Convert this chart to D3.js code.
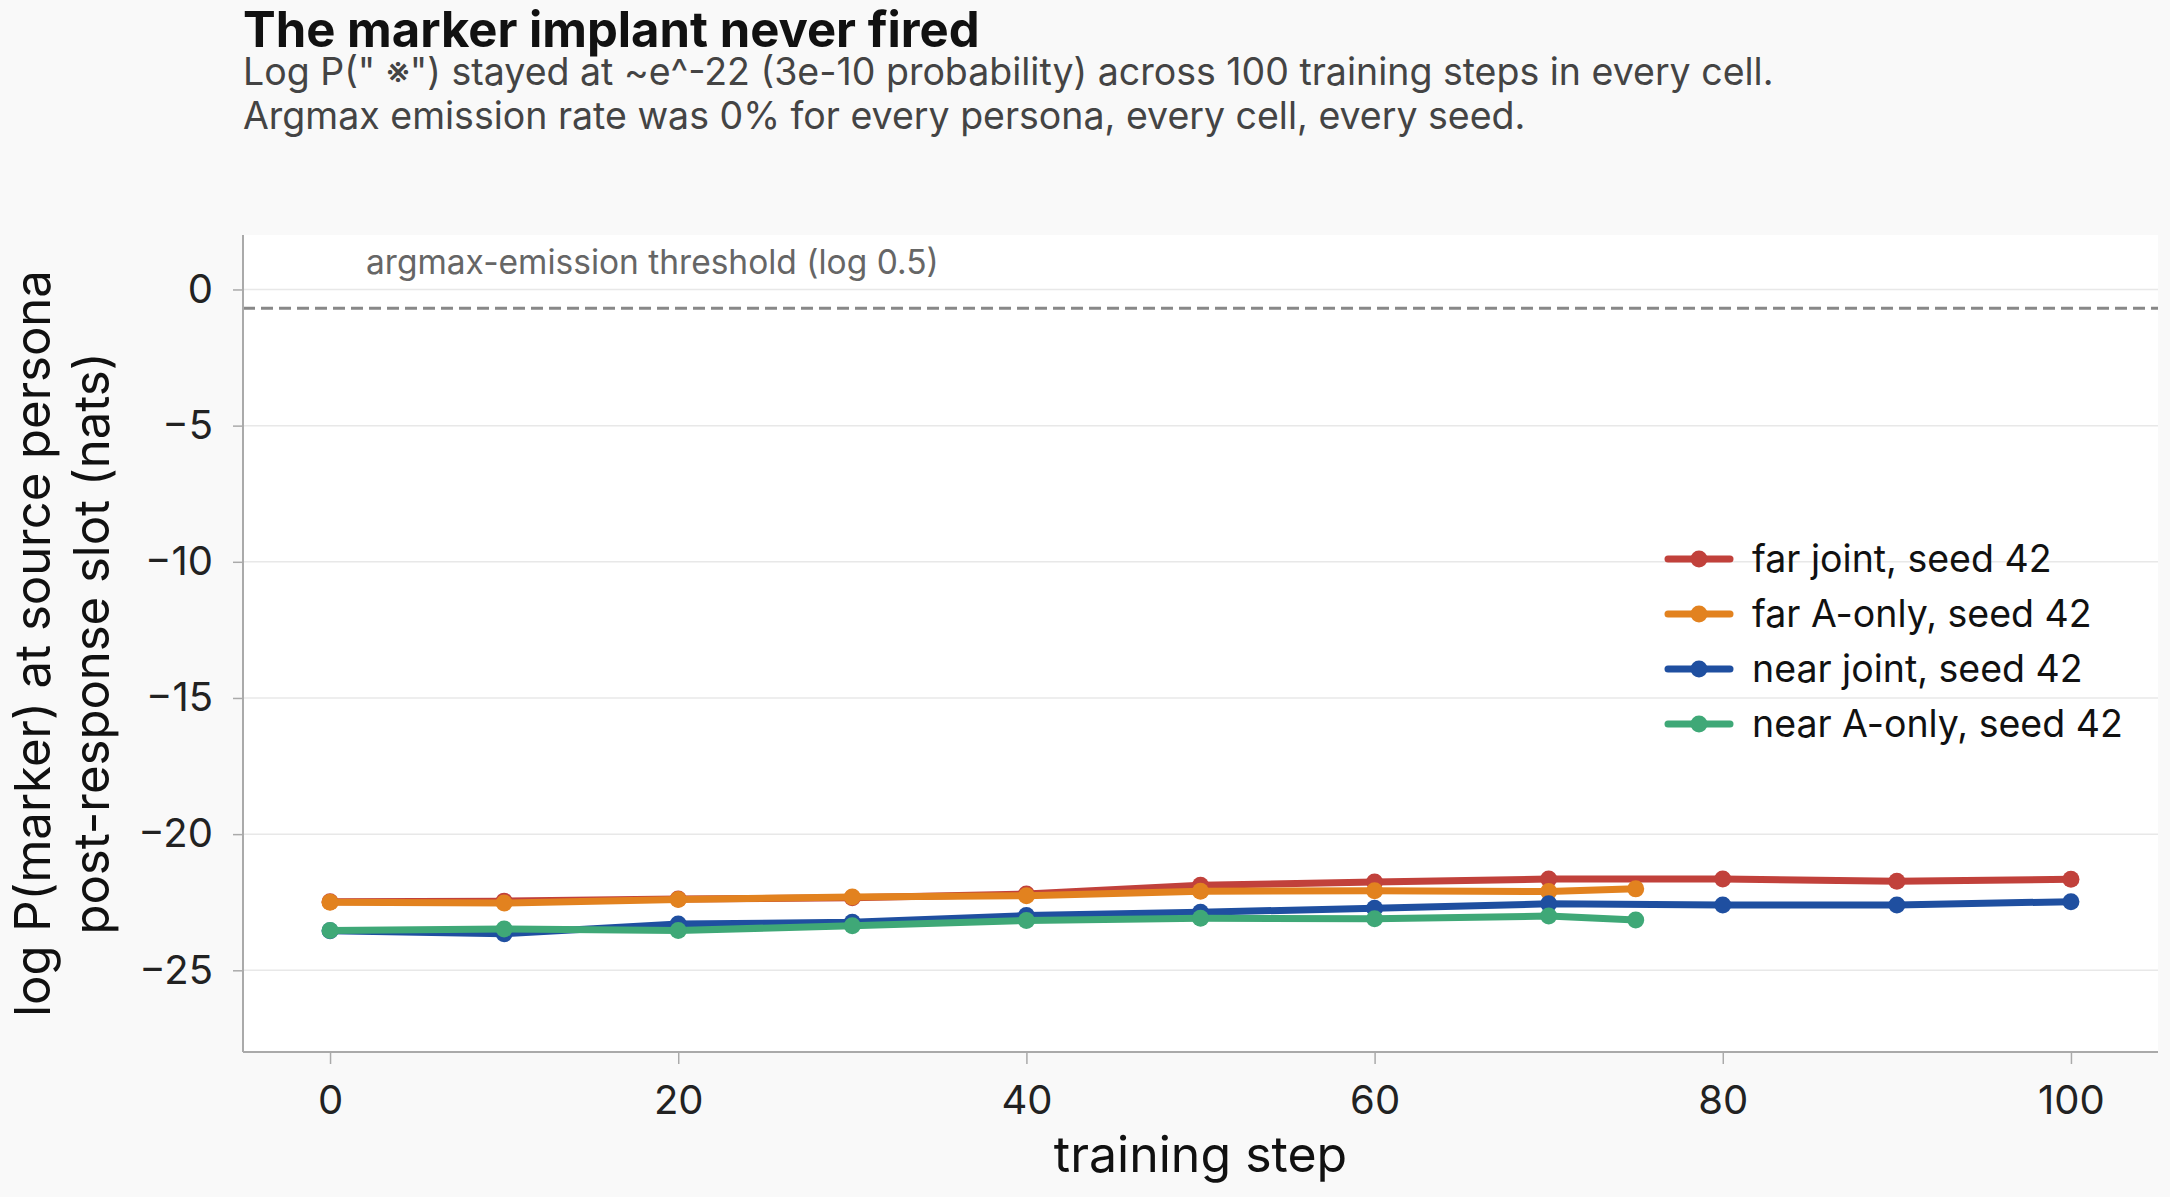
<!DOCTYPE html>
<html>
<head>
<meta charset="utf-8">
<script src="https://cdn.jsdelivr.net/npm/d3@7"></script>
<style>
  body { margin: 0; background: #f9f9f9; font-family: Inter, "Noto Sans", sans-serif; }
  svg { display: block; }
</style>
</head>
<body>
<div id="chart"></div>
<script>
var width = 2170;
var height = 1197;
var margin = {top: 235, right: 12, bottom: 145, left: 243};
//training steps, series values in nats
var stepsFull = [0, 10, 20, 30, 40, 50, 60, 70, 80, 90, 100];
var stepsShort = [0, 10, 20, 30, 40, 50, 60, 70, 75];
var farJoint = [-22.48, -22.46, -22.38, -22.34, -22.20, -21.88, -21.76, -21.65, -21.65, -21.73, -21.66];
var farAOnly = [-22.50, -22.53, -22.40, -22.31, -22.26, -22.10, -22.08, -22.11, -22.01];
var nearJoint = [-23.55, -23.66, -23.30, -23.24, -22.99, -22.87, -22.72, -22.56, -22.60, -22.60, -22.48];
var nearAOnly = [-23.54, -23.48, -23.54, -23.36, -23.17, -23.09, -23.11, -23.01, -23.15];
var seriesNames = ["far joint, seed 42", "far A-only, seed 42", "near joint, seed 42", "near A-only, seed 42"];
var seriesColors = ["#c1413b", "#e2821f", "#1f4fa0", "#3fa877"];
var xTicks = [0, 20, 40, 60, 80, 100];
var yTicks = [0, -5, -10, -15, -20, -25];
var threshold = Math.log(0.5);

var series = [
    {name: seriesNames[0], color: seriesColors[0], steps: stepsFull, values: farJoint},
    {name: seriesNames[1], color: seriesColors[1], steps: stepsShort, values: farAOnly},
    {name: seriesNames[2], color: seriesColors[2], steps: stepsFull, values: nearJoint},
    {name: seriesNames[3], color: seriesColors[3], steps: stepsShort, values: nearAOnly}
];

var svg = d3.select("#chart").append("svg")
    .attr("width", width)
    .attr("height", height);

var innerW = width - margin.left - margin.right;
var innerH = height - margin.top - margin.bottom;

var x = d3.scaleLinear().domain([-5, 105]).range([0, innerW]);
var y = d3.scaleLinear().domain([-28, 2]).range([innerH, 0]);

//titles
svg.append("text")
    .attr("x", 243).attr("y", 47)
    .attr("font-size", 49).attr("font-weight", 700).attr("fill", "#111")
    .text("The marker implant never fired");
var sub = ["Log P(\" \u203B\") stayed at ~e^-22 (3e-10 probability) across 100 training steps in every cell.",
    "Argmax emission rate was 0% for every persona, every cell, every seed."];
sub.forEach(function(s, i) {
    svg.append("text")
        .attr("x", 243).attr("y", 85 + i * 44)
        .attr("font-size", 37.5).attr("fill", "#444")
        .text(s);
});

var g = svg.append("g").attr("transform", "translate(" + margin.left + "," + margin.top + ")");

//plot background
g.append("rect").attr("width", innerW).attr("height", innerH).attr("fill", "#fff");

//horizontal grid
g.selectAll(".grid").data(yTicks).enter().append("line")
    .attr("x1", 0).attr("x2", innerW)
    .attr("y1", function(d) { return y(d); })
    .attr("y2", function(d) { return y(d); })
    .attr("stroke", "#e8e8e8").attr("stroke-width", 1.5);

//threshold line + label
g.append("line")
    .attr("x1", 0).attr("x2", innerW)
    .attr("y1", y(threshold)).attr("y2", y(threshold))
    .attr("stroke", "#888").attr("stroke-width", 3)
    .attr("stroke-dasharray", "12,6");
g.append("text")
    .attr("x", x(0) + 36).attr("y", y(threshold) - 34)
    .attr("font-size", 33.5).attr("fill", "#666")
    .text("argmax-emission threshold (log 0.5)");

//axes
var xAxis = g.append("g").attr("transform", "translate(0," + innerH + ")")
    .call(d3.axisBottom(x).tickValues(xTicks).tickSize(12).tickPadding(22));
var yAxis = g.append("g")
    .call(d3.axisLeft(y).tickValues(yTicks).tickSize(10).tickPadding(20)
        .tickFormat(function(d) { return d3.format("")(d).replace("-", "\u2212"); }));
[xAxis, yAxis].forEach(function(a) {
    a.select(".domain").attr("stroke", "#aaa").attr("stroke-width", 2);
    a.selectAll(".tick line").attr("stroke", "#aaa").attr("stroke-width", 1.5);
    a.selectAll(".tick text").attr("font-size", 40).attr("font-family", "Inter").attr("fill", "#222");
});
xAxis.select(".domain").attr("d", "M0,0H" + innerW);
yAxis.select(".domain").attr("d", "M0,0V" + innerH);

//axis labels
svg.append("text")
    .attr("x", margin.left + innerW / 2).attr("y", 1172)
    .attr("text-anchor", "middle").attr("font-size", 50).attr("fill", "#111")
    .text("training step");
var yLab = ["log P(marker) at source persona", "post-response slot (nats)"];
yLab.forEach(function(s, i) {
    svg.append("text")
        .attr("transform", "translate(" + (50 + i * 59) + "," + (margin.top + innerH / 2) + ") rotate(-90)")
        .attr("text-anchor", "middle").attr("font-size", 49).attr("fill", "#111")
        .text(s);
});

//series lines and markers
var line = d3.line()
    .x(function(d) { return x(d.s); })
    .y(function(d) { return y(d.v); });
series.forEach(function(ser) {
    var pts = ser.steps.map(function(s, i) { return {s: s, v: ser.values[i]}; });
    g.append("path").datum(pts)
        .attr("d", line).attr("fill", "none")
        .attr("stroke", ser.color).attr("stroke-width", 7)
        .attr("stroke-linejoin", "round").attr("stroke-linecap", "round");
    g.selectAll(null).data(pts).enter().append("circle")
        .attr("cx", function(d) { return x(d.s); })
        .attr("cy", function(d) { return y(d.v); })
        .attr("r", 8.5).attr("fill", ser.color);
});

//legend
var legend = svg.append("g").attr("transform", "translate(1668,559)");
series.forEach(function(ser, i) {
    var row = legend.append("g").attr("transform", "translate(0," + i * 55 + ")");
    row.append("line").attr("x1", 0).attr("x2", 62)
        .attr("stroke", ser.color).attr("stroke-width", 7).attr("stroke-linecap", "round");
    row.append("circle").attr("cx", 31).attr("r", 8.5).attr("fill", ser.color);
    row.append("text").attr("x", 84).attr("y", 13)
        .attr("font-size", 37.5).attr("fill", "#111")
        .text(ser.name);
});
</script>
</body>
</html>
